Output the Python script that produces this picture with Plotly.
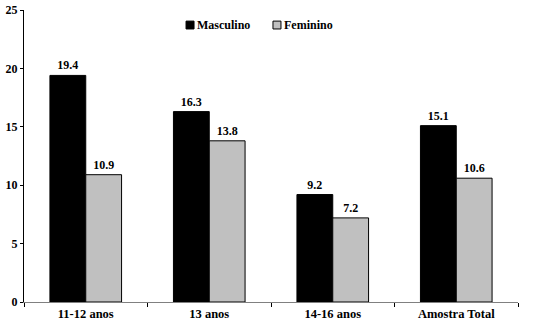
import plotly.graph_objects as go

categories = ["11-12 anos", "13 anos", "14-16 anos", "Amostra Total"]
masculino = [19.4, 16.3, 9.2, 15.1]
feminino = [10.9, 13.8, 7.2, 10.6]
y_ticks = [0, 5, 10, 15, 20, 25]
series_names = ["Masculino", "Feminino"]
series_colors = ["black", "#c0c0c0"]

font_family = "Liberation Serif"

fig = go.Figure()
for name, vals, col in zip(series_names, [masculino, feminino], series_colors):
    fig.add_trace(go.Bar(
        x=categories, y=vals, name=name,
        marker=dict(color=col, line=dict(color="black", width=1)),
        text=[f"<b>{v:.1f}</b>" for v in vals], textposition="outside",
        textfont=dict(family=font_family, size=12, color="black"),
        cliponaxis=False, showlegend=False,
    ))

# Legend drawn as squares + text labels (compact, like the original)
legend_x = [0.328, 0.504]
for lx, name, col in zip(legend_x, series_names, series_colors):
    fig.add_shape(type="rect", xref="paper", yref="paper",
                  x0=lx, x1=lx + 0.0162, y0=0.935, y1=0.962,
                  fillcolor=col, line=dict(color="black", width=1))
    fig.add_annotation(xref="paper", yref="paper", x=lx + 0.019, y=0.949,
                       xanchor="left", yanchor="middle", showarrow=False,
                       text=f"<b>{name}</b>",
                       font=dict(family=font_family, size=12, color="black"))

fig.update_layout(
    width=534, height=330,
    margin=dict(l=24, r=16, t=10, b=28),
    paper_bgcolor="white", plot_bgcolor="white",
    barmode="group", bargap=0.42, bargroupgap=0,
    font=dict(family=font_family, size=12, color="black"),
    showlegend=False,
    xaxis=dict(
        automargin=False,
        showline=True, linecolor="#808080", linewidth=1,
        ticks="outside", tickson="boundaries", ticklen=4, tickcolor="black",
        tickfont=dict(family=font_family, size=12.5, color="black"),
        ticktext=[f"<b>{c}</b>" for c in categories], tickvals=categories,
        showgrid=False,
    ),
    yaxis=dict(
        automargin=False,
        range=[0, 25], tickvals=y_ticks, ticktext=[f"<b>{t}</b>" for t in y_ticks],
        showline=True, linecolor="black", linewidth=1,
        ticks="outside", ticklen=3, tickcolor="black",
        tickfont=dict(family=font_family, size=12, color="black"),
        showgrid=False, zeroline=False,
    ),
)

fig.write_html(
    "out.html",
    config={"displayModeBar": False, "staticPlot": True},
    post_script="document.body.style.margin='0';document.body.style.padding='0';"
                "document.body.style.overflow='hidden';",
)
